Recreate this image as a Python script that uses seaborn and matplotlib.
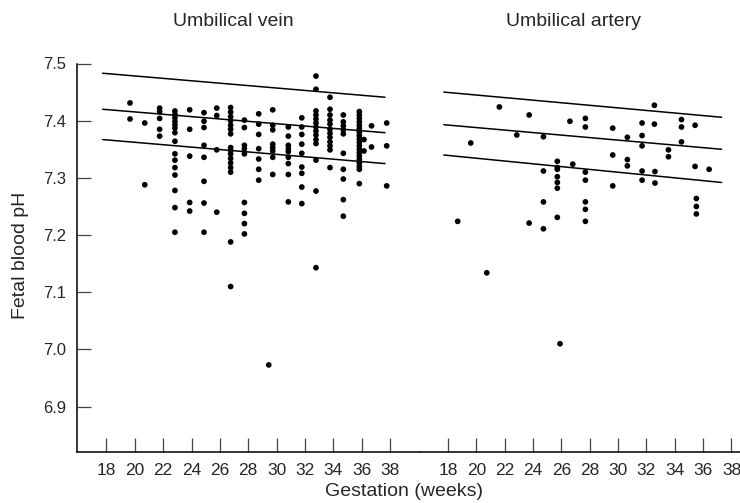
import matplotlib
matplotlib.use("Agg")
import matplotlib.pyplot as plt
import seaborn as sns
import pandas as pd

sns.set_theme(style="white")
plt.rcParams['font.family'] = ['Liberation Sans', 'DejaVu Sans']

# ---- Umbilical vein data (gestation weeks, pH) ----
vein_weeks = (
    [19.66] * 2 + [20.7] * 2 + [21.75] * 5 + [22.83] * 15 + [23.87] * 5 +
    [24.88] * 8 + [25.78] * 4 + [26.76] * 16 + [27.73] * 9 + [28.74] * 7 +
    [29.73] * 8 + [29.45] * 1 + [30.83] * 9 + [31.78] * 9 + [32.78] * 14 +
    [33.77] * 12 + [34.71] * 10 + [35.84] * 19 + [36.17] * 2 + [36.7] * 2 +
    [37.77] * 3
)
vein_ph = [
    7.431, 7.403,
    7.396, 7.288,
    7.422, 7.416, 7.404, 7.385, 7.373,
    7.417, 7.411, 7.405, 7.399, 7.393, 7.387, 7.379, 7.364, 7.342, 7.331,
    7.318, 7.305, 7.278, 7.248, 7.205,
    7.419, 7.385, 7.338, 7.257, 7.242,
    7.414, 7.399, 7.388, 7.357, 7.336, 7.294, 7.256, 7.205,
    7.422, 7.409, 7.349, 7.240,
    7.423, 7.415, 7.407, 7.400, 7.392, 7.385, 7.377, 7.353, 7.348, 7.342,
    7.334, 7.326, 7.318, 7.310, 7.188, 7.110,
    7.401, 7.388, 7.357, 7.351, 7.342, 7.257, 7.238, 7.220, 7.202,
    7.412, 7.394, 7.376, 7.351, 7.333, 7.315, 7.296,
    7.419, 7.392, 7.384, 7.359, 7.353, 7.347, 7.336, 7.306,
    6.973,
    7.389, 7.373, 7.357, 7.351, 7.346, 7.336, 7.325, 7.306, 7.258,
    7.405, 7.389, 7.376, 7.359, 7.343, 7.319, 7.308, 7.284, 7.255,
    7.478, 7.455, 7.417, 7.410, 7.403, 7.396, 7.389, 7.382, 7.375, 7.367,
    7.360, 7.331, 7.277, 7.143,
    7.441, 7.420, 7.410, 7.401, 7.394, 7.385, 7.378, 7.371, 7.363, 7.356,
    7.349, 7.318,
    7.410, 7.398, 7.391, 7.384, 7.377, 7.343, 7.315, 7.298, 7.262, 7.233,
    7.416, 7.410, 7.404, 7.398, 7.392, 7.386, 7.380, 7.374, 7.368, 7.362,
    7.356, 7.350, 7.344, 7.338, 7.332, 7.326, 7.320, 7.315, 7.290,
    7.367, 7.347,
    7.391, 7.354,
    7.396, 7.356, 7.286,
]

# ---- Umbilical artery data ----
artery_weeks = (
    [18.68] + [19.6] + [20.73] + [21.62] + [22.85] + [23.72] * 2 +
    [24.73] * 4 + [25.71] * 7 + [25.9] + [26.6] + [26.8] + [27.69] * 7 +
    [29.62] * 3 + [30.65] * 3 + [31.69] * 5 + [32.56] * 2 + [32.6] * 2 +
    [33.55] * 2 + [34.47] * 3 + [35.43] * 2 + [35.52] * 3 + [36.42]
)
artery_ph = [
    7.224, 7.361, 7.134, 7.424, 7.375,
    7.410, 7.221,
    7.372, 7.312, 7.258, 7.211,
    7.329, 7.318, 7.315, 7.302, 7.292, 7.282, 7.231,
    7.010, 7.399, 7.324,
    7.404, 7.389, 7.310, 7.296, 7.258, 7.245, 7.224,
    7.387, 7.340, 7.286,
    7.371, 7.332, 7.321,
    7.396, 7.374, 7.356, 7.312, 7.296,
    7.427, 7.394,
    7.311, 7.291,
    7.349, 7.337,
    7.402, 7.389, 7.363,
    7.392, 7.320,
    7.264, 7.250, 7.237,
    7.315,
]

# ---- Reference lines (start / end) ----
vein_line_x = [17.73, 37.65]
vein_upper = [7.483, 7.441]
vein_mid = [7.420, 7.379]
vein_lower = [7.367, 7.325]

artery_line_x = [17.7, 37.3]
artery_upper = [7.450, 7.406]
artery_mid = [7.393, 7.350]
artery_lower = [7.340, 7.292]

x_ticks = [18, 20, 22, 24, 26, 28, 30, 32, 34, 36, 38]
y_ticks = [6.9, 7.0, 7.1, 7.2, 7.3, 7.4, 7.5]

vein_df = pd.DataFrame({"week": vein_weeks, "ph": vein_ph})
artery_df = pd.DataFrame({"week": artery_weeks, "ph": artery_ph})

W, H = 740, 503
fig = plt.figure(figsize=(W / 100, H / 100), dpi=100)

y_top_px, y_bot_px = 63.5, 452
ax_b = (H - y_bot_px) / H
ax_h = (y_bot_px - y_top_px) / H
axL = fig.add_axes([77 / W, ax_b, (420 - 77) / W, ax_h])
axR = fig.add_axes([420 / W, ax_b, (740 - 420) / W, ax_h])

ylim = (6.8207, 7.5)

for ax, df, lx, lines, xl in [
    (axL, vein_df, vein_line_x, [vein_upper, vein_mid, vein_lower], (15.92, 40.12)),
    (axR, artery_df, artery_line_x, [artery_upper, artery_mid, artery_lower], (16.02, 38.6)),
]:
    for ly in lines:
        sns.lineplot(x=lx, y=ly, ax=ax, color="black", linewidth=1.1)
    sns.scatterplot(data=df, x="week", y="ph", ax=ax, color="black", s=17,
                    edgecolor="none", linewidth=0, clip_on=False)
    ax.set_xlim(*xl)
    ax.set_ylim(*ylim)
    ax.set_xticks(x_ticks)
    ax.set_xlabel("")
    ax.set_ylabel("")
    ax.tick_params(axis="x", direction="in", length=10, width=0.9, color="#444444",
                   labelsize=12.5, pad=8, bottom=True)
    for s in ["top", "right"]:
        ax.spines[s].set_visible(False)
    ax.spines["bottom"].set_color("black")
    ax.spines["bottom"].set_linewidth(1.1)

axL.set_yticks(y_ticks)
axL.set_yticklabels([f"{v:.1f}" for v in y_ticks])
axL.tick_params(axis="y", direction="in", length=10, width=0.9, color="#444444",
                labelsize=12, pad=8, left=True)
axL.spines["left"].set_color("black")
axL.spines["left"].set_linewidth(1.1)
axR.spines["left"].set_visible(False)
axR.set_yticks([])

fig.text(233 / W, 1 - 22 / H, "Umbilical vein", ha="center", va="center", fontsize=14)
fig.text(574 / W, 1 - 22 / H, "Umbilical artery", ha="center", va="center", fontsize=14)
fig.text(21 / W, 1 - 255 / H, "Fetal blood pH", ha="center", va="center",
         rotation=90, fontsize=14)
fig.text(404 / W, 1 - 491 / H, "Gestation (weeks)", ha="center", va="center", fontsize=14)

fig.savefig("out.png", dpi=100)
